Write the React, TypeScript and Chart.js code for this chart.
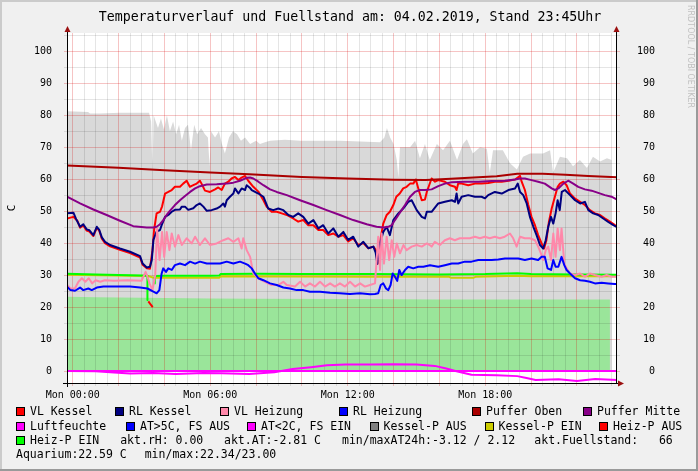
import React, { useEffect, useRef } from 'react';
import { Chart, registerables } from 'chart.js';

Chart.register(...registerables);

type P = [number, number | null];

// ---- axis ranges (hours relative to Mon 00:00, degrees C) ----
const X_MIN = -0.25;
const X_MAX = 23.75;
const Y_MIN = -3.75;
const Y_MAX = 105.7;
const xLabelHours = [0, 6, 12, 18];
const yLabelValues = [0, 10, 20, 30, 40, 50, 60, 70, 80, 90, 100];

// ---- series ----
const fuellstand: P[] = [[-0.25,81.2],[0.67,81.0],[0.75,80.5],[1.19,80.5],[2.06,80.8],[3.33,80.8],[3.42,78.0],[3.48,62.0],[3.53,80.0],[3.72,76],[3.85,79],[3.98,75.5],[4.11,80],[4.24,75],[4.38,78],[4.51,74],[4.64,77],[4.76,72],[4.90,76],[5.03,77],[5.16,69],[5.30,77],[5.43,74],[5.60,76],[5.77,74],[5.90,73],[5.97,64],[6.03,75],[6.21,73],[6.38,75],[6.51,71],[6.64,68],[6.82,73],[6.99,75],[7.17,74],[7.34,72],[7.52,73],[7.74,71],[8.00,72],[8.17,71],[8.39,71.5],[8.61,72],[9.26,72.3],[9.92,72],[10.79,72],[11.66,72],[12.54,71.8],[13.41,71.5],[13.6,73],[13.71,76],[13.85,73],[14.0,71],[14.14,66],[14.21,60.5],[14.28,70],[14.41,70],[14.72,70],[14.94,72],[15.15,66.5],[15.37,71],[15.58,66],[15.89,71],[16.16,69],[16.46,72],[16.77,66],[17.03,71],[17.20,72.5],[17.46,68],[17.77,70],[18.07,69.5],[18.20,62],[18.34,69],[18.77,69],[19.08,65],[19.38,63],[19.65,67],[19.96,68],[20.52,68],[20.83,69],[20.96,62],[21.26,67],[21.57,66.5],[21.83,64],[22.13,66],[22.44,63.5],[22.70,67],[23.01,65.5],[23.31,66.5],[23.52,66]];

const aquarium: P[] = [[-0.25,23.2],[1,23.1],[2,23.0],[3,22.9],[4,22.8],[6,22.7],[8,22.6],[12,22.5],[16,22.4],[20,22.4],[23.44,22.4]];

const luftfeuchte: P[] = [[-0.25,0],[23.75,0]];

const aussenTemp: P[] = [[-0.25,0.0],[1.0,-0.1],[1.8,-0.5],[2.5,-0.8],[3.5,-0.6],[4.5,-0.9],[5.7,-0.6],[6.5,-0.7],[7.7,-0.9],[8.8,-0.4],[9.1,0.0],[9.6,0.6],[10.4,1.2],[11.1,1.8],[11.9,2.0],[13.0,2.0],[14.0,2.1],[15.0,2.0],[15.8,1.6],[16.3,0.8],[16.7,0.0],[17.4,-1.2],[18.5,-1.3],[19.4,-1.6],[19.8,-2.2],[20.2,-2.8],[21.2,-2.6],[22.0,-3.1],[22.8,-2.5],[23.75,-2.8]];

const kesselPEin: P[] = [[-0.25,30.1],[3.3,29.7],[3.5,29.2],[6.4,29.2],[6.45,29.6],[13,29.5],[16.4,29.5],[16.5,29.2],[17.5,29.2],[17.6,29.5],[19.4,29.8],[20,29.6],[23.75,29.6]];

const heizPEin: P[] = [[-0.25,30.4],[1,30.2],[2,30.0],[3.0,29.9],[3.26,29.8],[3.26,22.2],[3.30,22.2],[3.42,null],[3.57,27.4],[3.58,29.7],[4,29.8],[6.0,29.8],[6.4,29.9],[6.45,30.3],[8,30.4],[10,30.3],[13,30.3],[16,30.2],[18,30.3],[19.4,30.6],[20,30.3],[22,30.2],[23.75,30.1]];

const heizPAus: P[] = [[3.30,21.8],[3.40,20.8],[3.49,20.0]];

const vlKessel: P[] = [[-0.25,47.7],[0.03,48.2],[0.2,47.0],[0.32,44.8],[0.46,45.5],[0.61,43.9],[0.73,43.6],[0.90,42.2],[1.05,44.8],[1.16,43.8],[1.27,41.4],[1.41,40.0],[1.63,39.0],[2.06,37.9],[2.50,36.9],[2.94,35.5],[3.05,33.2],[3.23,32.1],[3.37,32.0],[3.48,37.8],[3.55,44.1],[3.66,49.3],[3.81,49.8],[3.90,51.5],[4.03,55.5],[4.17,56.0],[4.32,56.6],[4.46,57.6],[4.68,57.6],[4.82,58.6],[4.97,59.5],[5.11,57.6],[5.26,58.1],[5.41,58.6],[5.55,59.5],[5.62,58.6],[5.77,56.4],[5.99,56.0],[6.21,56.8],[6.35,57.4],[6.50,56.6],[6.64,58.6],[6.79,59.2],[6.93,60.2],[7.08,60.7],[7.23,59.7],[7.37,60.5],[7.52,61.0],[7.66,59.5],[7.88,57.6],[8.10,56.1],[8.32,53.4],[8.46,51.4],[8.68,49.8],[8.90,49.8],[9.12,49.3],[9.34,48.8],[9.62,47.7],[9.84,46.7],[10.06,47.2],[10.28,45.6],[10.50,45.6],[10.72,44.1],[10.93,44.1],[11.15,42.5],[11.37,43.0],[11.59,42.0],[11.81,42.5],[12.02,40.5],[12.24,41.5],[12.46,39.4],[12.68,40.0],[12.90,38.4],[13.12,38.9],[13.23,37.8],[13.30,33.5],[13.38,38.0],[13.45,42.0],[13.55,46.1],[13.70,48.8],[13.84,49.8],[13.99,51.9],[14.12,54.5],[14.27,55.5],[14.42,57.1],[14.57,57.6],[14.72,58.6],[14.86,58.6],[14.97,59.9],[15.08,57.1],[15.23,53.4],[15.37,53.6],[15.45,56.0],[15.55,58.0],[15.66,60.2],[15.81,59.2],[15.95,59.7],[16.24,59.2],[16.46,58.1],[16.68,57.6],[16.75,56.6],[16.82,58.6],[16.97,58.6],[17.26,58.1],[17.55,58.6],[17.84,58.6],[18.13,58.8],[18.42,59.2],[18.72,59.2],[19.01,59.5],[19.30,59.9],[19.52,61.0],[19.59,59.2],[19.73,56.6],[19.88,51.9],[20.02,48.2],[20.17,45.6],[20.31,42.5],[20.46,39.9],[20.57,38.3],[20.67,40.9],[20.78,46.7],[20.90,50.8],[21.04,54.5],[21.16,57.6],[21.26,58.6],[21.41,59.2],[21.55,58.1],[21.70,55.5],[21.92,53.9],[22.14,52.9],[22.35,51.9],[22.57,50.3],[22.79,49.3],[23.01,48.8],[23.23,47.7],[23.44,46.7],[23.66,45.6],[23.75,45.2]];

const rlKessel: P[] = [[-0.25,49.3],[0.03,49.5],[0.15,47.5],[0.32,45.1],[0.46,45.9],[0.61,44.3],[0.73,44.0],[0.90,42.5],[1.05,45.1],[1.16,44.1],[1.27,41.8],[1.41,40.4],[1.63,39.4],[2.06,38.3],[2.50,37.3],[2.94,35.9],[3.05,33.6],[3.23,32.4],[3.37,32.6],[3.45,34.7],[3.52,41.0],[3.66,43.6],[3.81,44.1],[3.88,45.6],[4.03,48.2],[4.17,48.8],[4.32,49.8],[4.46,50.4],[4.68,50.5],[4.76,51.4],[4.90,51.4],[5.04,50.4],[5.26,50.9],[5.41,51.9],[5.55,52.4],[5.70,51.4],[5.85,50.1],[6.06,50.3],[6.28,50.8],[6.43,51.4],[6.57,52.4],[6.64,51.4],[6.72,53.4],[6.86,54.5],[7.01,55.5],[7.08,57.1],[7.23,55.5],[7.37,57.1],[7.52,56.6],[7.59,58.1],[7.74,57.2],[7.81,56.6],[8.10,55.5],[8.32,54.5],[8.53,50.8],[8.75,50.3],[8.97,50.8],[9.19,50.3],[9.41,48.8],[9.62,48.2],[9.84,49.3],[10.06,48.2],[10.28,46.1],[10.50,47.2],[10.72,44.6],[10.93,45.6],[11.15,43.0],[11.37,44.6],[11.59,42.0],[11.81,43.5],[12.02,41.0],[12.24,42.0],[12.46,38.9],[12.68,40.4],[12.90,38.4],[13.12,38.9],[13.22,37.0],[13.29,33.5],[13.41,39.9],[13.55,43.5],[13.70,45.1],[13.84,42.5],[13.99,47.2],[14.21,49.3],[14.42,50.8],[14.64,52.9],[14.79,53.4],[15.01,50.3],[15.23,48.2],[15.37,47.7],[15.45,49.8],[15.66,49.8],[15.95,52.4],[16.24,52.9],[16.54,53.4],[16.68,52.9],[16.75,55.5],[16.82,52.4],[16.97,54.5],[17.26,55.0],[17.55,54.5],[17.84,54.5],[17.99,54.0],[18.13,55.0],[18.42,56.0],[18.72,55.5],[19.01,56.6],[19.30,57.1],[19.42,58.6],[19.52,56.0],[19.66,55.0],[19.81,52.4],[19.95,48.2],[20.10,45.1],[20.24,42.5],[20.39,39.4],[20.53,38.3],[20.64,40.9],[20.75,45.1],[20.87,48.2],[20.97,46.1],[21.07,49.3],[21.16,53.4],[21.25,50.3],[21.34,56.0],[21.48,56.6],[21.70,55.0],[21.92,53.4],[22.14,52.4],[22.35,52.9],[22.50,50.3],[22.71,49.3],[22.93,48.8],[23.15,47.7],[23.37,46.6],[23.59,45.6],[23.75,45.0]];

const vlHeizung: P[] = [[-0.25,26.9],[-0.1,25.8],[0.1,25.9],[0.25,27.9],[0.4,29.0],[0.55,27.9],[0.7,29.0],[0.85,27.4],[1.0,28.4],[1.2,27.9],[1.4,28.4],[1.8,28.2],[2.4,28.4],[3.0,28.2],[3.18,31.0],[3.27,29.3],[3.35,27.4],[3.48,25.3],[3.60,30.0],[3.68,44.6],[3.79,34.7],[3.90,43.5],[3.99,35.7],[4.10,43.5],[4.22,37.8],[4.32,43.0],[4.46,38.9],[4.61,42.5],[4.76,39.4],[4.97,41.5],[5.19,39.9],[5.34,42.0],[5.55,39.4],[5.77,41.5],[5.99,39.4],[6.28,39.9],[6.57,40.9],[6.79,41.5],[7.01,40.4],[7.23,41.5],[7.37,38.3],[7.44,41.5],[7.59,37.8],[7.74,35.7],[7.88,30.5],[8.10,29.0],[8.39,27.9],[8.68,26.9],[8.97,26.9],[9.19,27.9],[9.34,26.9],[9.70,26.4],[9.92,27.9],[10.14,26.4],[10.35,27.4],[10.57,26.4],[10.79,27.9],[11.01,26.4],[11.23,27.4],[11.44,26.4],[11.66,27.4],[11.88,26.4],[12.10,27.9],[12.32,26.4],[12.54,27.4],[12.75,26.4],[12.97,26.9],[13.19,27.4],[13.26,34.7],[13.33,42.0],[13.41,31.6],[13.48,43.0],[13.58,33.6],[13.70,42.0],[13.81,34.7],[13.92,40.9],[14.03,35.7],[14.14,39.9],[14.28,36.8],[14.43,39.4],[14.57,37.8],[14.79,38.9],[15.01,39.4],[15.23,38.9],[15.45,39.9],[15.58,39.4],[15.66,38.9],[15.80,40.4],[16.02,39.4],[16.24,40.9],[16.46,41.5],[16.67,40.9],[16.89,41.5],[17.11,41.5],[17.33,41.5],[17.55,42.0],[17.77,41.5],[17.98,42.0],[18.20,41.5],[18.42,42.0],[18.64,41.5],[18.85,42.0],[19.08,43.0],[19.22,41.5],[19.37,38.9],[19.52,42.0],[19.73,41.5],[19.95,41.5],[20.17,40.9],[20.31,38.9],[20.43,36.8],[20.53,34.7],[20.64,37.8],[20.75,38.9],[20.87,34.7],[20.97,43.0],[21.07,35.7],[21.16,44.6],[21.26,37.8],[21.33,44.6],[21.45,33.6],[21.55,32.1],[21.70,30.5],[21.92,30.0],[22.14,30.5],[22.35,29.5],[22.57,30.5],[22.79,30.0],[23.08,29.5],[23.30,30.0],[23.52,29.5],[23.75,29.5]];

const rlHeizung: P[] = [[-0.25,26.4],[-0.1,25.3],[0.1,25.1],[0.32,26.1],[0.46,25.3],[0.68,25.8],[0.83,25.3],[1.05,26.1],[1.34,26.4],[1.92,26.4],[2.50,26.4],[2.94,26.1],[3.26,25.8],[3.52,24.8],[3.66,24.3],[3.78,25.3],[3.88,30.5],[3.95,32.1],[4.07,31.0],[4.17,32.1],[4.32,31.6],[4.46,33.1],[4.68,33.6],[4.90,33.1],[5.12,34.2],[5.34,33.6],[5.55,34.2],[5.85,33.6],[6.14,33.6],[6.43,33.6],[6.72,34.2],[7.01,33.6],[7.30,34.2],[7.52,33.6],[7.66,33.1],[7.81,32.1],[7.95,30.5],[8.10,29.0],[8.32,28.4],[8.61,27.4],[8.90,26.9],[9.19,26.1],[9.48,25.8],[9.77,25.3],[10.06,25.3],[10.35,24.8],[10.79,24.8],[11.23,24.5],[11.66,24.3],[12.10,24.1],[12.54,24.3],[12.97,24.0],[13.19,24.1],[13.33,24.3],[13.44,26.9],[13.55,27.4],[13.67,25.8],[13.77,25.3],[13.87,26.9],[13.96,30.5],[14.06,29.5],[14.16,28.2],[14.25,31.6],[14.35,30.0],[14.50,31.6],[14.64,32.6],[14.86,32.1],[15.08,32.6],[15.30,32.6],[15.59,33.1],[15.95,32.6],[16.24,33.1],[16.54,33.6],[16.82,33.6],[17.11,34.2],[17.40,34.2],[17.70,34.7],[17.99,34.7],[18.28,34.7],[18.57,34.9],[18.86,35.2],[19.15,35.2],[19.44,35.2],[19.73,34.7],[20.02,35.2],[20.31,34.7],[20.46,35.7],[20.60,35.7],[20.72,32.1],[20.87,31.6],[20.97,34.7],[21.07,32.6],[21.19,32.6],[21.33,35.7],[21.45,33.1],[21.55,31.6],[21.70,30.5],[21.92,29.0],[22.14,28.4],[22.35,28.2],[22.57,27.9],[22.79,27.4],[23.08,27.6],[23.37,27.4],[23.66,27.2],[23.75,27.2]];

const pufferOben: P[] = [[-0.25,64.3],[2,63.6],[4,62.8],[6,62.1],[7.7,61.5],[10,60.7],[12,60.2],[14,59.8],[15.4,59.7],[16.5,60.1],[17.5,60.5],[18.5,60.9],[19.4,61.7],[20.5,61.7],[21.5,61.4],[22.5,61.0],[23.75,60.6]];

const pufferMitte: P[] = [[-0.25,54.5],[0.32,52.4],[0.90,50.5],[1.48,48.8],[2.06,47.0],[2.64,45.3],[3.23,44.9],[3.52,44.9],[3.66,45.1],[3.81,45.9],[3.95,47.2],[4.10,48.8],[4.24,50.1],[4.46,51.9],[4.68,53.4],[4.90,54.7],[5.12,56.0],[5.34,57.1],[5.55,57.8],[5.85,58.3],[6.28,58.4],[6.72,58.6],[7.01,58.9],[7.30,59.5],[7.59,60.4],[7.74,60.5],[7.88,60.2],[8.10,59.2],[8.32,58.1],[8.61,56.8],[8.90,56.0],[9.34,55.0],[9.92,53.4],[10.50,51.9],[11.08,50.3],[11.66,48.8],[12.24,47.2],[12.83,45.9],[13.26,45.1],[13.55,44.9],[13.77,45.1],[13.92,45.6],[14.06,47.2],[14.21,48.8],[14.35,50.3],[14.50,51.9],[14.72,54.5],[14.93,56.0],[15.15,56.6],[15.37,56.6],[15.66,56.8],[15.95,57.8],[16.24,58.6],[16.54,59.0],[17.11,59.2],[17.70,59.2],[18.28,59.4],[18.86,59.5],[19.30,59.9],[19.52,60.2],[19.73,60.2],[20.02,59.7],[20.31,59.2],[20.60,58.6],[20.90,57.1],[21.04,56.6],[21.19,57.1],[21.41,58.6],[21.62,59.5],[21.84,58.6],[22.06,57.6],[22.35,56.8],[22.64,56.4],[22.93,55.7],[23.22,55.0],[23.51,54.5],[23.75,53.6]];

// ---- texts ----
const titleText = 'Temperaturverlauf und Fuellstand am: 04.02.2019, Stand 23:45Uhr';
const yAxisTitle = 'C';
const watermark = 'RRDTOOL / TOBI OETIKER';

type LegendItem = { text: string; color?: string; x: number };
const legendRow1: LegendItem[] = [
  { text: 'VL Kessel', color: '#ff0000', x: 16 },
  { text: 'RL Kessel', color: '#000080', x: 115 },
  { text: 'VL Heizung', color: '#ff88aa', x: 220 },
  { text: 'RL Heizung', color: '#0000ff', x: 339 },
  { text: 'Puffer Oben', color: '#aa0000', x: 472 },
  { text: 'Puffer Mitte', color: '#880088', x: 583 },
];
const legendRow2: LegendItem[] = [
  { text: 'Luftfeuchte', color: '#ff00ff', x: 16 },
  { text: 'AT>5C, FS AUS', color: '#0000ff', x: 126 },
  { text: 'AT<2C, FS EIN', color: '#ff00ff', x: 247 },
  { text: 'Kessel-P AUS', color: '#808080', x: 369.5 },
  { text: 'Kessel-P EIN', color: '#cccc00', x: 484.5 },
  { text: 'Heiz-P AUS', color: '#ff0000', x: 599 },
];
const legendRow3: LegendItem[] = [
  { text: 'Heiz-P EIN', color: '#00ff00', x: 16 },
  { text: 'akt.rH: 0.00', x: 120.2 },
  { text: 'akt.AT:-2.81 C', x: 224 },
  { text: 'min/maxAT24h:-3.12 / 2.12', x: 342 },
  { text: 'akt.Fuellstand:   66', x: 534.3 },
];
const legendRow4: LegendItem[] = [
  { text: 'Aquarium:22.59 C', x: 16 },
  { text: 'min/max:22.34/23.00', x: 144.7 },
];

const MONO = '"DejaVu Sans Mono", monospace';

const toXY = (a: P[]) => a.map(([x, y]) => ({ x, y }));

const GRID_AFTER_INDEX = 1;

const rrdPlugin = {
  id: 'rrdLook',
  beforeDraw(chart: any) {
    const { ctx, chartArea: a } = chart;
    ctx.save();
    ctx.fillStyle = '#ffffff';
    ctx.fillRect(a.left, a.top, a.right - a.left, a.bottom - a.top);
    ctx.restore();
  },
  afterDatasetDraw(chart: any, args: any) {
    if (args.index !== GRID_AFTER_INDEX) return;
    const { ctx, chartArea: a, scales } = chart;
    const xs = scales.x;
    const ys = scales.y;
    const minor = 'rgba(0,0,0,0.10)';
    const major = 'rgba(215,0,0,0.23)';
    ctx.save();
    ctx.lineWidth = 1;
    const vLine = (h: number, c: string) => {
      const px = Math.floor(xs.getPixelForValue(h)) + 0.5;
      ctx.strokeStyle = c;
      ctx.beginPath();
      ctx.moveTo(px, a.top);
      ctx.lineTo(px, a.bottom + 3);
      ctx.stroke();
    };
    const hLine = (v: number, c: string) => {
      const py = Math.floor(ys.getPixelForValue(v)) + 0.5;
      ctx.strokeStyle = c;
      ctx.beginPath();
      ctx.moveTo(a.left - 3, py);
      ctx.lineTo(a.right + 3, py);
      ctx.stroke();
    };
    for (let h = 0; h <= X_MAX; h += 0.5) if (h % 2 !== 0) vLine(h, minor);
    for (let v = 5; v <= Y_MAX; v += 10) hLine(v, minor);
    for (let h = 0; h <= X_MAX; h += 2) vLine(h, major);
    for (let v = 0; v <= Y_MAX; v += 10) hLine(v, major);
    ctx.restore();
  },
  afterDraw(chart: any) {
    const { ctx, chartArea: a } = chart;
    const lx = Math.floor(a.left) + 0.5;
    const rx = Math.floor(a.right) - 0.5;
    const by = Math.floor(a.bottom) + 0.5;
    ctx.save();
    ctx.strokeStyle = '#000';
    ctx.lineWidth = 1;
    ctx.beginPath();
    ctx.moveTo(lx, a.top - 2);
    ctx.lineTo(lx, a.bottom + 4);
    ctx.moveTo(rx, a.top - 2);
    ctx.lineTo(rx, a.bottom + 1);
    ctx.moveTo(a.left - 4, by);
    ctx.lineTo(a.right + 2, by);
    ctx.stroke();
    ctx.fillStyle = '#9b1010';
    const up = (x: number) => {
      ctx.beginPath();
      ctx.moveTo(x, a.top - 7);
      ctx.lineTo(x - 3, a.top - 1);
      ctx.lineTo(x + 3, a.top - 1);
      ctx.closePath();
      ctx.fill();
    };
    up(lx);
    up(rx);
    ctx.beginPath();
    ctx.moveTo(a.right + 7, by);
    ctx.lineTo(a.right + 1, by - 3);
    ctx.lineTo(a.right + 1, by + 3);
    ctx.closePath();
    ctx.fill();
    ctx.restore();
  },
};

function line(label: string, data: P[], color: string, order: number, extra: any = {}) {
  return {
    label,
    data: toXY(data),
    borderColor: color,
    backgroundColor: color,
    borderWidth: 2,
    pointRadius: 0,
    tension: 0,
    fill: false,
    spanGaps: false,
    borderJoinStyle: 'round',
    order,
    ...extra,
  };
}

function LegendRow({ items, top }: { items: LegendItem[]; top: number }) {
  return (
    <>
      {items.map((it, i) => (
        <React.Fragment key={i}>
          {it.color ? (
            <div
              style={{
                position: 'absolute',
                left: it.x,
                top: top + 3,
                width: 9,
                height: 9,
                boxSizing: 'border-box',
                border: '1px solid #000',
                background: it.color,
              }}
            />
          ) : null}
          <div
            style={{
              position: 'absolute',
              left: it.color ? it.x + 14 : it.x,
              top,
              height: 14,
              lineHeight: '14px',
              fontFamily: MONO,
              fontSize: '11.5px',
              color: '#000',
              whiteSpace: 'pre',
            }}
          >
            {it.text}
          </div>
        </React.Fragment>
      ))}
    </>
  );
}

const yTicks = (s: any) => {
  s.ticks = yLabelValues.map((v) => ({ value: v }));
};

export default function App() {
  const ref = useRef<HTMLCanvasElement>(null);

  useEffect(() => {
    const canvas = ref.current;
    if (!canvas) return;
    const chart = new Chart(canvas, {
      type: 'line',
      data: {
        datasets: [
          line('Fuellstand', fuellstand, '#d9d9d9', 100, { fill: 'origin', borderWidth: 0, backgroundColor: '#d9d9d9' }),
          line('Aquarium', aquarium, '#9ae59a', 99, { fill: 'origin', borderWidth: 0, backgroundColor: '#9ae59a' }),
          line('Kessel-P EIN', kesselPEin, '#cccc00', 90),
          line('Heiz-P EIN', heizPEin, '#00ff00', 89),
          line('Heiz-P AUS', heizPAus, '#ff0000', 88),
          line('AT', aussenTemp, '#ff00ff', 87),
          line('Luftfeuchte', luftfeuchte, '#ff00ff', 86),
          line('VL Kessel', vlKessel, '#ff0000', 80),
          line('RL Kessel', rlKessel, '#000080', 79),
          line('VL Heizung', vlHeizung, '#ff88aa', 78),
          line('RL Heizung', rlHeizung, '#0000ff', 77),
          line('Puffer Oben', pufferOben, '#aa0000', 76),
          line('Puffer Mitte', pufferMitte, '#880088', 75),
        ] as any,
      },
      options: {
        responsive: false,
        animation: false,
        devicePixelRatio: 1,
        events: [],
        layout: { padding: { left: 0, right: 43, top: 33, bottom: 0 }, autoPadding: false },
        plugins: { legend: { display: false }, tooltip: { enabled: false }, title: { display: false } },
        scales: {
          x: {
            type: 'linear',
            position: 'bottom',
            min: X_MIN,
            max: X_MAX,
            grid: { display: false },
            border: { display: false },
            afterBuildTicks: (s: any) => {
              s.ticks = xLabelHours.map((v) => ({ value: v }));
            },
            ticks: {
              autoSkip: false,
              maxRotation: 0,
              padding: -2,
              color: '#000',
              font: { family: MONO, size: 10 },
              callback: (v: any) => 'Mon ' + String(v).padStart(2, '0') + ':00',
            },
            afterFit: (s: any) => {
              s.height = 88;
            },
          },
          y: {
            type: 'linear',
            position: 'left',
            min: Y_MIN,
            max: Y_MAX,
            grid: { display: false },
            border: { display: false },
            afterBuildTicks: yTicks,
            title: {
              display: true,
              text: yAxisTitle,
              color: '#000',
              font: { family: MONO, size: 11 },
              padding: { top: 6, bottom: 0 },
            },
            ticks: {
              autoSkip: false,
              padding: 7,
              color: '#000',
              font: { family: MONO, size: 10 },
              callback: (v: any) => String(v),
            },
            afterFit: (s: any) => {
              s.width = 67;
            },
          },
          y2: {
            type: 'linear',
            position: 'right',
            min: Y_MIN,
            max: Y_MAX,
            grid: { display: false },
            border: { display: false },
            afterBuildTicks: yTicks,
            ticks: {
              autoSkip: false,
              crossAlign: 'far',
              color: '#000',
              font: { family: MONO, size: 10 },
              callback: (v: any) => String(v),
            },
            afterFit: (s: any) => {
              s.width = 38;
            },
          },
        },
      } as any,
      plugins: [rrdPlugin as any],
    });
    return () => chart.destroy();
  }, []);

  return (
    <div
      style={{
        position: 'fixed',
        left: 0,
        top: 0,
        width: 698,
        height: 471,
        background: '#f0f0f0',
        overflow: 'hidden',
      }}
    >
      <canvas
        ref={ref}
        width={698}
        height={471}
        style={{ position: 'absolute', left: 0, top: 0, width: 698, height: 471 }}
      />
      <div style={{ position: 'absolute', left: 0, top: 0, width: 698, height: 2, background: '#cbcbcb' }} />
      <div style={{ position: 'absolute', left: 0, top: 0, width: 2, height: 471, background: '#cbcbcb' }} />
      <div style={{ position: 'absolute', left: 0, top: 469, width: 698, height: 2, background: '#9a9a9a' }} />
      <div style={{ position: 'absolute', left: 696, top: 0, width: 2, height: 471, background: '#9a9a9a' }} />
      <div
        style={{
          position: 'absolute',
          left: 0,
          top: 9,
          width: 700,
          textAlign: 'center',
          fontFamily: MONO,
          fontSize: '13.25px',
          lineHeight: '16px',
          color: '#000',
          whiteSpace: 'pre',
        }}
      >
        {titleText}
      </div>
      <div
        style={{
          position: 'absolute',
          left: 686,
          top: 5,
          writingMode: 'vertical-rl',
          fontFamily: '"DejaVu Sans", sans-serif',
          fontSize: '8px',
          lineHeight: '8px',
          color: '#c0c0c0',
          whiteSpace: 'pre',
        }}
      >
        {watermark}
      </div>
      <LegendRow items={legendRow1} top={404.4} />
      <LegendRow items={legendRow2} top={418.7} />
      <LegendRow items={legendRow3} top={432.7} />
      <LegendRow items={legendRow4} top={447} />
    </div>
  );
}
